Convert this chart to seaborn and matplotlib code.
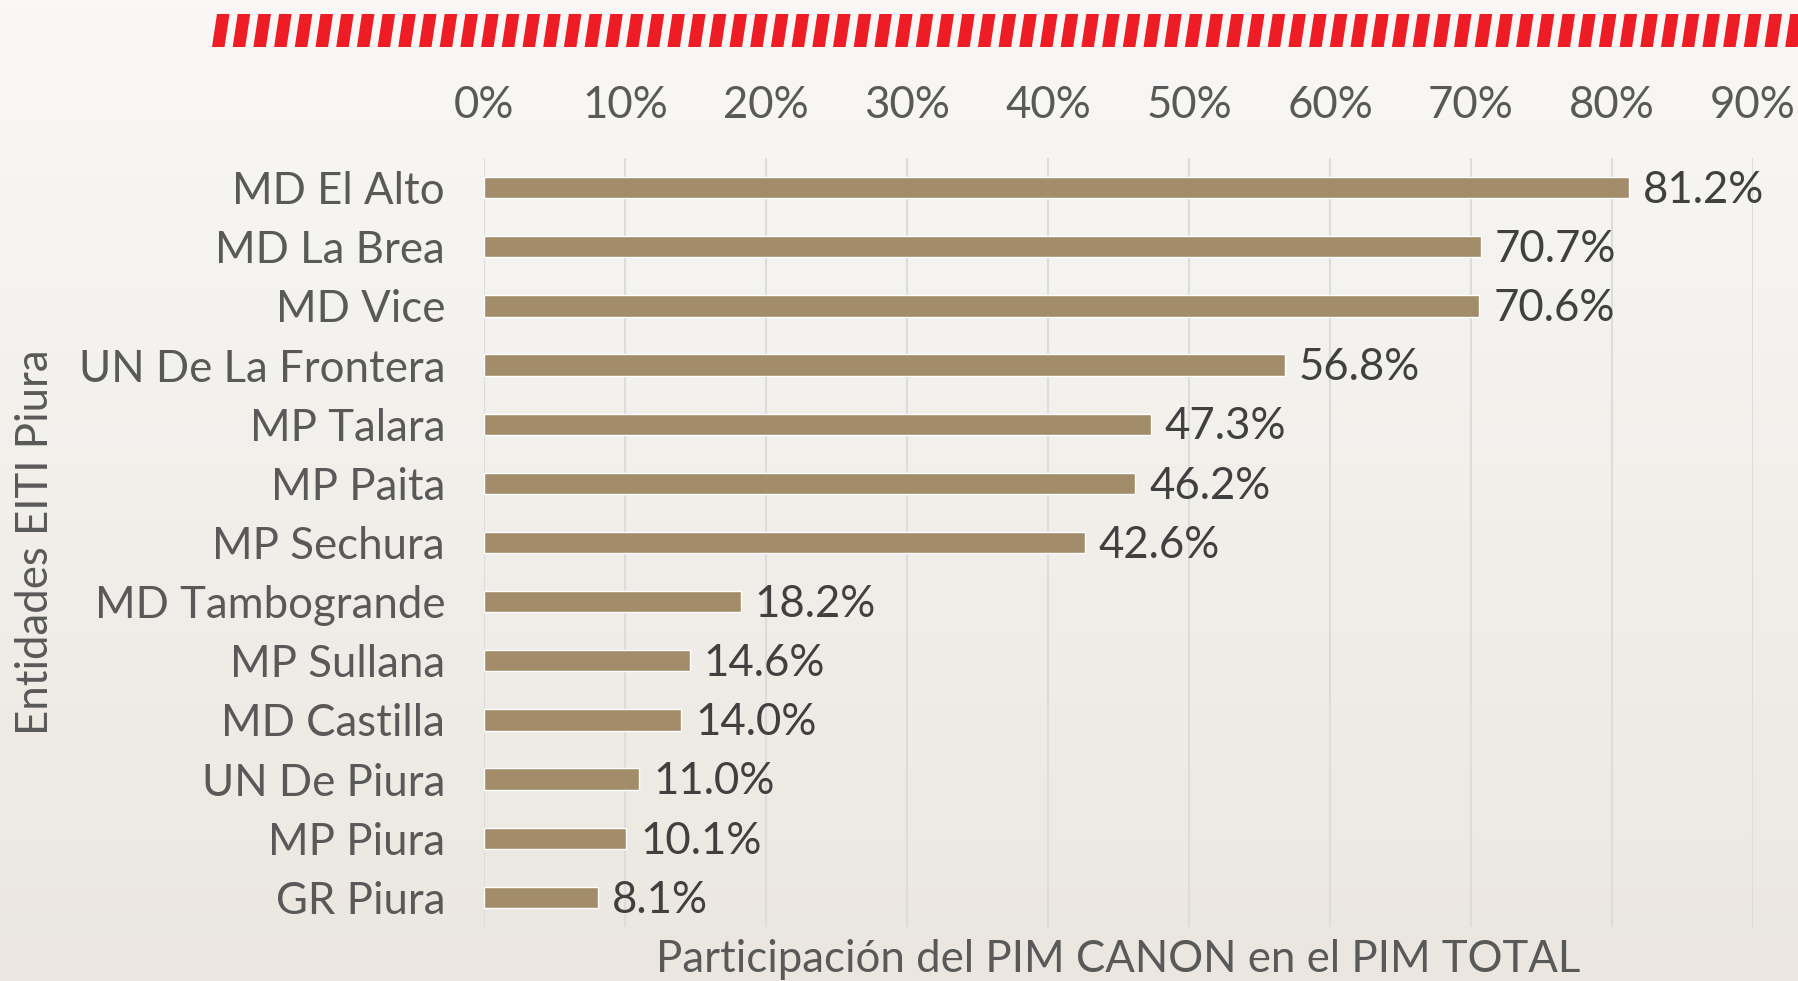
import numpy as np
import pandas as pd
import matplotlib
matplotlib.use("Agg")
import matplotlib.pyplot as plt
from matplotlib.patches import Polygon
from matplotlib.colors import LinearSegmentedColormap
import seaborn as sns

entidades = ["MD El Alto", "MD La Brea", "MD Vice", "UN De La Frontera", "MP Talara",
             "MP Paita", "MP Sechura", "MD Tambogrande", "MP Sullana", "MD Castilla",
             "UN De Piura", "MP Piura", "GR Piura"]
participacion = [0.812, 0.707, 0.706, 0.568, 0.473, 0.462, 0.426, 0.182, 0.146, 0.140,
                 0.110, 0.101, 0.081]
x_ticks = [0.0, 0.1, 0.2, 0.3, 0.4, 0.5, 0.6, 0.7, 0.8, 0.9]
x_tick_labels = ["0%", "10%", "20%", "30%", "40%", "50%", "60%", "70%", "80%", "90%"]

df = pd.DataFrame({"Entidad": entidades, "Participacion": participacion})

sns.set_theme(style="white")
plt.rcParams["font.family"] = ["Lato", "DejaVu Sans"]

FS = 31.5
W, H = 1798, 981
fig = plt.figure(figsize=(W / 100, H / 100), dpi=100)

# background gradient
bg = fig.add_axes([0, 0, 1, 1], zorder=-10)
cmap = LinearSegmentedColormap.from_list("bg", ["#f9f8f6", "#ebe7e0"])
grad = np.linspace(0, 1, 256).reshape(-1, 1)
bg.imshow(grad, aspect="auto", cmap=cmap, extent=[0, 1, 0, 1], origin="upper")
bg.set_axis_off()

# red dashed band at top
band_top = 1 - 14 / H
band_bot = 1 - 47 / H
x0 = 212
period = 20.7
dash_w = 12.5
slant = 5
x = x0
while x < W + 20:
    pts = [((x) / W, band_bot), ((x + dash_w) / W, band_bot),
           ((x + dash_w + slant) / W, band_top), ((x + slant) / W, band_top)]
    fig.patches.append(Polygon(pts, closed=True, transform=fig.transFigure,
                               facecolor="#ee1c25", edgecolor="none", zorder=5))
    x += period

ax = fig.add_axes([484 / W, 1 - 927 / H, (1753 - 484) / W, (927 - 158) / H])
ax.set_facecolor("none")
sns.barplot(data=df, y="Entidad", x="Participacion", orient="h", color="#a38c6a",
            width=0.36, saturation=1, ax=ax, zorder=3)

ax.set_xlim(0, 0.9)
ax.set_ylim(12.5, -0.5)
ax.set_xticks(x_ticks)
ax.set_xticklabels(x_tick_labels)
ax.xaxis.tick_top()
ax.xaxis.set_label_position("bottom")
ax.tick_params(axis="x", which="both", length=0, pad=23, labelsize=FS, labelcolor="#595959")
ax.tick_params(axis="y", which="both", length=0, pad=28, labelsize=FS, labelcolor="#595959")
ax.grid(axis="x", color="#dcdcdc", linewidth=1.5, zorder=0)
ax.grid(axis="y", visible=False)
for s in ax.spines.values():
    s.set_visible(False)

for i, v in enumerate(participacion):
    ax.annotate(f"{v * 100:.1f}%", xy=(v, i), xytext=(10, -2), textcoords="offset points",
                ha="left", va="center", fontsize=FS, color="#404040", zorder=4)

ax.set_xlabel("Participación del PIM CANON en el PIM TOTAL", fontsize=FS,
              color="#595959", labelpad=9)
ax.set_ylabel("Entidades EITI Piura", fontsize=FS, color="#595959", labelpad=16)

fig.savefig("out.png", dpi=100)
